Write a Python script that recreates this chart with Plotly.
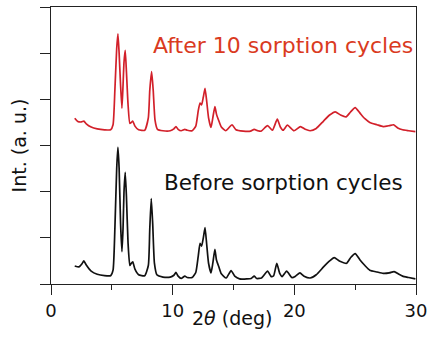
import plotly.graph_objects as go

# Powder XRD patterns (2-theta in degrees, intensity in arbitrary units)
two_theta_before = [1.95, 2.3, 2.55, 2.7, 2.9, 3.3, 3.8, 4.4, 4.9, 5.1, 5.25, 5.4, 5.5, 5.6, 5.72,
                    5.83, 5.92, 6.0, 6.1, 6.2, 6.33, 6.48, 6.6, 6.72, 6.9, 7.2, 7.7, 8.0, 8.12,
                    8.24, 8.36, 8.5, 8.7, 9.2, 9.8, 10.1, 10.27, 10.45, 10.7, 11.0, 11.2, 11.6,
                    11.9, 12.1, 12.25, 12.38, 12.52, 12.66, 12.8, 12.95, 13.15, 13.3, 13.47,
                    13.6, 13.8, 14.0, 14.4, 14.8, 15.1, 15.5, 16.1, 16.45, 16.7, 16.9, 17.3,
                    17.8, 18.1, 18.3, 18.56, 18.8, 19.0, 19.37, 19.8, 20.1, 20.46, 20.8, 21.3,
                    21.8, 22.4, 22.9, 23.28, 23.7, 24.3, 24.65, 25.0, 25.4, 25.8, 26.2, 26.8,
                    27.3, 27.8, 28.2, 28.6, 28.9, 29.4, 29.95]
intensity_before = [0.39, 0.37, 0.44, 0.50, 0.41, 0.28, 0.21, 0.18, 0.18, 0.30, 1.2, 2.5, 2.96,
                    2.5, 1.3, 0.70, 1.2, 2.0, 2.42, 1.9, 0.9, 0.40, 0.45, 0.48, 0.32, 0.20, 0.18,
                    0.40, 1.2, 1.85, 1.3, 0.45, 0.20, 0.15, 0.15, 0.19, 0.25, 0.17, 0.12, 0.17,
                    0.14, 0.14, 0.25, 0.6, 0.88, 0.82, 1.0, 1.22, 0.85, 0.45, 0.24, 0.45, 0.75,
                    0.52, 0.37, 0.22, 0.13, 0.29, 0.17, 0.11, 0.11, 0.12, 0.17, 0.12, 0.13,
                    0.28, 0.16, 0.18, 0.45, 0.23, 0.16, 0.28, 0.14, 0.17, 0.24, 0.17, 0.13,
                    0.20, 0.37, 0.50, 0.57, 0.50, 0.45, 0.58, 0.66, 0.52, 0.40, 0.30, 0.26,
                    0.23, 0.24, 0.27, 0.21, 0.17, 0.14, 0.11]

two_theta_after = [1.95, 2.2, 2.5, 2.7, 2.9, 3.3, 3.8, 4.4, 4.9, 5.1, 5.25, 5.4, 5.5, 5.6, 5.72,
                   5.83, 5.92, 6.0, 6.1, 6.2, 6.33, 6.48, 6.6, 6.72, 6.9, 7.2, 7.7, 8.0, 8.12,
                   8.27, 8.4, 8.55, 8.75, 9.2, 9.8, 10.1, 10.27, 10.45, 10.7, 11.0, 11.2, 11.6,
                   11.9, 12.1, 12.25, 12.38, 12.52, 12.66, 12.8, 12.95, 13.15, 13.3, 13.47,
                   13.6, 13.8, 14.0, 14.36, 14.88, 15.2, 15.8, 16.4, 16.7, 17.0, 17.26, 17.8,
                   18.2, 18.6, 18.85, 19.08, 19.43, 19.97, 20.5, 20.9, 21.3, 21.8, 22.4, 22.9,
                   23.36, 23.8, 24.25, 24.6, 25.0, 25.4, 25.8, 26.2, 26.8, 27.3, 27.8, 28.15,
                   28.5, 28.9, 29.4, 29.95]
intensity_after = [0.27, 0.20, 0.19, 0.21, 0.15, 0.08, 0.04, 0.02, 0.02, 0.13, 0.88, 1.78, 2.10,
                   1.68, 0.98, 0.49, 0.98, 1.48, 1.74, 1.28, 0.58, 0.16, 0.18, 0.21, 0.10, 0.02,
                   0.01, 0.28, 0.88, 1.28, 0.88, 0.23, 0.03, 0.00, 0.00, 0.04, 0.09, 0.03,
                   0.00, 0.03, 0.01, 0.00, 0.10, 0.43, 0.60, 0.56, 0.73, 0.92, 0.63, 0.28,
                   0.07, 0.28, 0.52, 0.36, 0.21, 0.08, 0.00, 0.13, 0.02, -0.01, -0.01, 0.03,
                   0.00, -0.01, 0.11, 0.01, 0.25, 0.08, 0.01, 0.12, 0.00, 0.09, 0.03, 0.00,
                   0.05, 0.21, 0.34, 0.41, 0.34, 0.30, 0.40, 0.50, 0.38, 0.26, 0.18, 0.13,
                   0.09, 0.11, 0.13, 0.06, 0.02, 0.00, -0.02]
after_offset = 3.32

label_after = "After 10 sorption cycles"
label_before = "Before sorption cycles"

red_line = "#d2202a"
red_text = "#da3a1e"
font_family = "DejaVu Sans"

fig = go.Figure()
fig.add_trace(go.Scatter(x=two_theta_before, y=intensity_before, mode="lines",
                         line=dict(color="#111111", width=1.7, shape="spline", smoothing=0.5),
                         name=label_before))
fig.add_trace(go.Scatter(x=two_theta_after, y=[v + after_offset for v in intensity_after],
                         mode="lines",
                         line=dict(color=red_line, width=1.7, shape="spline", smoothing=0.5),
                         name=label_after))

fig.add_annotation(x=8.2, y=5.16, xref="x", yref="y", text=label_after, showarrow=False,
                   xanchor="left", yanchor="middle",
                   font=dict(family=font_family, size=22, color=red_text))
fig.add_annotation(x=9.1, y=2.2, xref="x", yref="y", text=label_before, showarrow=False,
                   xanchor="left", yanchor="middle",
                   font=dict(family=font_family, size=21.5, color="#111111"))
# x-axis title sits between the 10 and 20 tick labels
fig.add_annotation(x=14.9, y=-0.122, xref="x", yref="paper", text="2<i>θ</i> (deg)",
                   showarrow=False, xanchor="center", yanchor="middle",
                   font=dict(family=font_family, size=19, color="#111111"))

axis_color = "#222222"
fig.update_xaxes(range=[0, 30], tickvals=[0, 10, 20, 30], ticks="outside", ticklen=10,
                 tickwidth=1.3, tickcolor=axis_color, showline=True, linecolor=axis_color,
                 linewidth=1.3, mirror=True, showgrid=False, zeroline=False,
                 minor=dict(tickvals=[5, 15, 25], ticks="outside", ticklen=5, tickwidth=1.3,
                            tickcolor=axis_color),
                 tickfont=dict(family=font_family, size=18, color="#111111"))
fig.update_yaxes(range=[0, 6], dtick=1, tick0=0, ticks="outside", ticklen=10, tickwidth=1.3,
                 tickcolor=axis_color, showticklabels=False, showline=True,
                 linecolor=axis_color, linewidth=1.3, mirror=True, showgrid=False,
                 zeroline=False,
                 title=dict(text="Int. (a. u.)", standoff=8,
                            font=dict(family=font_family, size=19, color="#111111")))

fig.update_layout(width=433, height=337, margin=dict(l=51, r=12, t=6, b=53),
                  plot_bgcolor="white", paper_bgcolor="white", showlegend=False)

fig.write_html("out.html")
